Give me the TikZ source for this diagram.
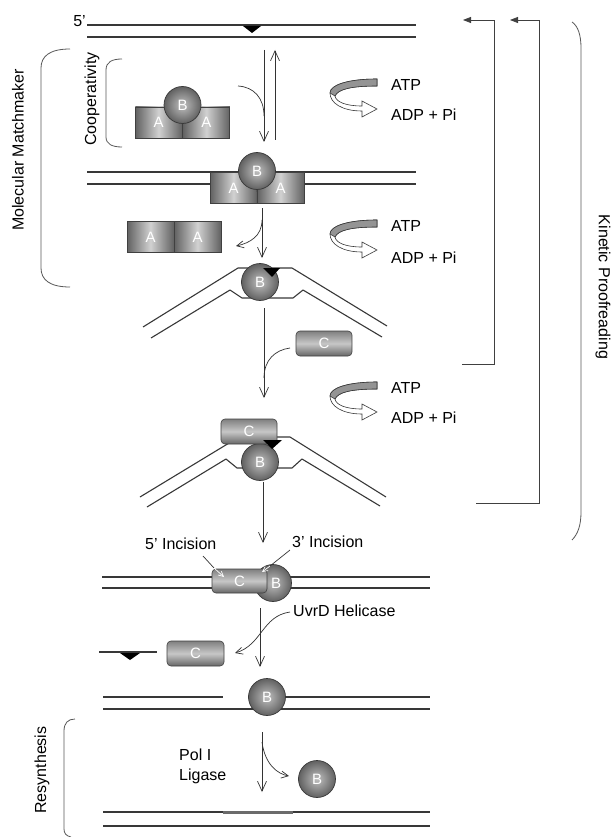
\documentclass[tikz,border=0pt]{standalone}
\usepackage{fontspec}
\setsansfont{Liberation Sans}
\usetikzlibrary{arrows.meta}
\begin{document}
\begin{tikzpicture}[x=1pt,y=-1pt,
  font=\sffamily\fontsize{16}{19}\selectfont,
  dna/.style={draw=black!78, line width=1.1pt, line join=round},
  shapefont/.style={font=\sffamily\fontsize{15}{18}\selectfont, text=white},
  abox/.style={rectangle, draw=black!75, line width=0.6pt, minimum width=47pt, minimum height=31pt, inner sep=0pt,
    left color=black!62, right color=black!62, middle color=black!18, shapefont},
  bball/.style={circle, draw=black!78, line width=0.7pt, minimum size=37pt, inner sep=0pt,
    inner color=black!25, outer color=black!62, shapefont},
  cbox/.style={rectangle, rounded corners=4pt, draw=black!75, line width=0.6pt, minimum width=56pt, minimum height=25pt, inner sep=0pt,
    top color=black!50, bottom color=black!60, middle color=black!22, shapefont},
  arr/.style={draw=black!80, line width=0.7pt, -{Straight Barb[length=10pt,width=9pt]}},
  sarr/.style={draw=black!80, line width=0.7pt, -{Straight Barb[length=7pt,width=7pt]}},
  warr/.style={draw=white, line width=0.7pt, -{Straight Barb[length=5pt,width=5pt]}},
  link/.style={draw=black!80, line width=0.7pt},
  kp/.style={draw=black!75, line width=0.8pt, -{Triangle[length=8pt,width=6pt]}},
  brace/.style={draw=black!65, line width=0.8pt},
  divline/.style={draw=black!75, line width=0.6pt},
  lbl/.style={inner sep=0pt, text=black},
  lesion/.style={fill=black},
  patch/.style={draw=black!58, line width=3pt},
  atpcycle/.pic={
    \draw[fill=white, draw=black!78, line width=0.6pt]
      (47,-16) .. controls (18,-16) and (0,-10) .. (0,-2)
      .. controls (0,8) and (12,16) .. (32,16)
      -- (32,22) -- (47,14) -- (32,6) -- (32,11)
      .. controls (16,11) and (6,7) .. (5,1)
      .. controls (8,-6) and (22,-9) .. (47,-9) -- cycle;
    \draw[fill=black!42, draw=black!78, line width=0.6pt]
      (47,-16) .. controls (18,-16) and (0,-10) .. (0,-2)
      -- (5,1) .. controls (8,-6) and (22,-9) .. (47,-9) -- cycle;
  }
]
\useasboundingbox (0,0) rectangle (612,837);
\fill[white] (0,0) rectangle (612,837);

% ---------- top DNA ----------
\node[lbl, anchor=base east] (p5) at (86,27) {5'};
\coordinate (d1a) at (87,25); \coordinate (d1b) at (416,25);
\coordinate (d1c) at (87,37); \coordinate (d1d) at (416,37);
\draw[dna] (d1a) -- (d1b);
\draw[dna] (d1c) -- (d1d);
\fill[lesion] (243,26) -- (261,26) -- (252,33) -- cycle;

% ---------- free B A A ----------
\node[abox] (fa1) at (158.75,122.5) {A};
\node[abox] (fa2) at (206.25,122.5) {A};
\node[bball] (fb) at (182.5,105) {B};
\draw[divline] (fb.south) -- (fa1.south east);

% Cooperativity bracket
\draw[brace] (122,59) .. controls (112,59) and (106,62) .. (106,70) -- (106,137) .. controls (106,144) and (112,147) .. (122,147);
\node[lbl, rotate=90] (coop) at (92,99) {Cooperativity};

% arrows step 1
\coordinate (a1s) at (264,50); \coordinate (a1e) at (264,142);
\coordinate (a2s) at (275,140); \coordinate (a2e) at (275,50);
\draw[arr] (a1s) -- (a1e);
\draw[arr] (a2s) -- (a2e);
\coordinate (c1s) at (238,86); \coordinate (c1e) at (264,116);
\draw[link] (c1s) .. controls (254,87) and (264,98) .. (c1e);

% ATP 1
\pic at (330,95) {atpcycle};
\node[lbl, anchor=base west] (atp1) at (391,91) {ATP};
\node[lbl, anchor=base west] (adp1) at (391,121) {ADP + Pi};

% ---------- DNA 2 with B A A ----------
\coordinate (d2a) at (87,172); \coordinate (d2b) at (416,172);
\coordinate (d2c) at (87,184); \coordinate (d2d) at (416,184);
\draw[dna] (d2a) -- (d2b);
\draw[dna] (d2c) -- (d2d);
\node[abox] (ba1) at (233.5,188) {A};
\node[abox] (ba2) at (280.5,188) {A};
\node[bball] (bb) at (257,171) {B};
\draw[divline] (bb.south) -- (ba1.south east);

% Molecular Matchmaker bracket
\draw[brace] (70,49) .. controls (50,49) and (41,56) .. (41,68) -- (41,268) .. controls (41,280) and (50,287) .. (70,287);
\node[lbl, rotate=90] (mm) at (18,150) {Molecular Matchmaker};

% arrows step 2
\coordinate (a3s) at (262,208); \coordinate (a3e) at (262,258);
\draw[arr] (a3s) -- (a3e);
\coordinate (c2s) at (262,220); \coordinate (c2e) at (236,246);
\draw[sarr] (c2s) .. controls (262,236) and (250,243) .. (c2e);

% free A A
\node[abox] (aa1) at (150.5,237) {A};
\node[abox] (aa2) at (197.5,237) {A};

% ATP 2
\pic at (330,236) {atpcycle};
\node[lbl, anchor=base west] (atp2) at (391,231) {ATP};
\node[lbl, anchor=base west] (adp2) at (391,263) {ADP + Pi};

% ---------- bent DNA 1 ----------
\draw[dna] (143,327) -- (238,268) -- (292,268) -- (387,326);
\draw[dna] (151,338) -- (230,290) -- (242,298) -- (293,298) -- (303,290) -- (382,337);
\node[bball] (b2) at (260,282) {B};
\fill[lesion] (263,268) -- (280,268) -- (272,277) -- cycle;

% arrow step 3
\coordinate (a4s) at (264,308); \coordinate (a4e) at (264,398);
\draw[arr] (a4s) -- (a4e);
\node[cbox] (c1) at (324,343.5) {C};
\coordinate (c3s) at (290,348); \coordinate (c3e) at (264,378);
\draw[link] (c3s) .. controls (275,350) and (264,360) .. (c3e);

% Kinetic proofreading return arrows
\coordinate (k1s) at (462,364); \coordinate (k1c) at (494,20); \coordinate (k1e) at (463,20);
\draw[kp] (k1s) -| (k1c) -- (k1e);
\coordinate (k2s) at (476,503); \coordinate (k2c) at (539,20); \coordinate (k2e) at (510,20);
\draw[kp] (k2s) -| (k2c) -- (k2e);

% Kinetic bracket
\draw[brace] (572,22) .. controls (578,26) and (581,35) .. (581,48) -- (581,512) .. controls (581,525) and (578,534) .. (572,540);
\node[lbl, rotate=-90] (kpl) at (603,287) {Kinetic Proofreading};

% ATP 3
\pic at (330,398) {atpcycle};
\node[lbl, anchor=base west] (atp3) at (391,393) {ATP};
\node[lbl, anchor=base west] (adp3) at (391,423) {ADP + Pi};

% ---------- bent DNA 2 with C and B ----------
\draw[dna] (140,497) -- (239,437) -- (290,437) -- (386,497);
\draw[dna] (147,507) -- (226,459) -- (237,468) -- (292,468) -- (302,459) -- (380,506);
\node[bball] (b3) at (260,462) {B};
\node[cbox] (c2) at (249,431.5) {C};
\fill[lesion] (263,440) -- (282,440) -- (272,449) -- cycle;

\coordinate (a5s) at (263,482); \coordinate (a5e) at (263,543);
\draw[arr] (a5s) -- (a5e);

% ---------- incision ----------
\coordinate (d3a) at (102,577); \coordinate (d3b) at (430,577);
\coordinate (d3c) at (102,588); \coordinate (d3d) at (430,588);
\draw[dna] (d3a) -- (d3b);
\draw[dna] (d3c) -- (d3d);
\node[bball] (b4) at (273,583) {\hspace*{6pt}B};
\node[cbox, minimum width=55pt, minimum height=24pt] (c3) at (239.5,581) {C};
\node[lbl, anchor=base west] (i5) at (145,549) {5' Incision};
\node[lbl, anchor=base west] (i3) at (292,547) {3' Incision};
\coordinate (i5a) at (203,556); \coordinate (i5b) at (214,568); \coordinate (i5c) at (224,577);
\draw[link] (i5a) -- (i5b);
\draw[warr] (i5b) -- (i5c);
\coordinate (i3a) at (290,550); \coordinate (i3b) at (270,566); \coordinate (i3c) at (262,572);
\draw[link] (i3a) -- (i3b);
\draw[warr] (i3b) -- (i3c);

% UvrD
\node[lbl, anchor=base west] (uvrd) at (293,616) {UvrD Helicase};
\coordinate (a6s) at (260,608); \coordinate (a6e) at (260,667);
\draw[arr] (a6s) -- (a6e);
\coordinate (c4s) at (290,612); \coordinate (c4e) at (235,653);
\draw[sarr] (c4s) .. controls (262,616) and (262,645) .. (c4e);

% excised fragment and free C
\coordinate (fra) at (99,652); \coordinate (frb) at (157,652);
\draw[dna] (fra) -- (frb);
\fill[lesion] (120,653) -- (140,653) -- (130,660) -- cycle;
\node[cbox, minimum width=57pt] (c4) at (195.5,653.5) {C};

% ---------- gapped DNA with B ----------
\coordinate (d4a) at (103,697); \coordinate (d4b) at (223,697);
\coordinate (d4e) at (267,697); \coordinate (d4f) at (430,697);
\coordinate (d4c) at (103,709); \coordinate (d4d) at (430,709);
\draw[dna] (d4a) -- (d4b);
\draw[dna] (d4e) -- (d4f);
\draw[dna] (d4c) -- (d4d);
\node[bball] (b5) at (267,697) {B};

% Resynthesis bracket
\draw[brace] (75,719) .. controls (68,719) and (64,723) .. (64,731) -- (64,829) .. controls (64,833) and (66,836) .. (71,837);
\node[lbl, rotate=90] (res) at (42,770) {Resynthesis};
\node[lbl, anchor=base west] (pol) at (179,760) {Pol I};
\node[lbl, anchor=base west] (lig) at (179,780) {Ligase};

\coordinate (a7s) at (262,732); \coordinate (a7e) at (262,792);
\draw[arr] (a7s) -- (a7e);
\coordinate (c5s) at (262,742); \coordinate (c5e) at (289,776);
\draw[sarr] (c5s) .. controls (265,765) and (278,774) .. (c5e);
\node[bball] (b6) at (317,779) {B};

% ---------- repaired DNA ----------
\coordinate (d5a) at (103,812); \coordinate (d5b) at (430,812);
\coordinate (d5c) at (103,826); \coordinate (d5d) at (430,826);
\draw[dna] (d5a) -- (d5b);
\draw[dna] (d5c) -- (d5d);
\coordinate (s1) at (223,812); \coordinate (s2) at (293,812);
\draw[patch] (s1) -- (s2);
\end{tikzpicture}
\end{document}
